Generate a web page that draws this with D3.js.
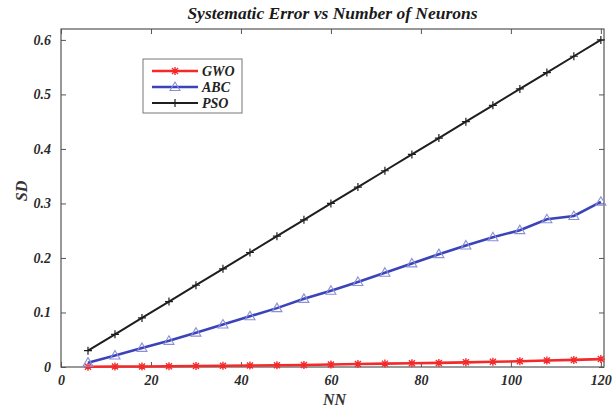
<!DOCTYPE html>
<html lang="en">
<head>
<meta charset="utf-8">
<title>Systematic Error vs Number of Neurons</title>
<script src="https://d3js.org/d3.v7.min.js"></script>
<style>
  body { margin: 0; background: #fff; }
  svg { display: block; }
  text { font-family: "Liberation Serif", "DejaVu Serif", serif; font-weight: bold; font-style: italic; }
</style>
</head>
<body>
<script>
// data
const neurons = [6, 12, 18, 24, 30, 36, 42, 48, 54, 60, 66, 72, 78, 84, 90, 96, 102, 108, 114, 120];
const gwo = [0.0005, 0.0008, 0.001, 0.0014, 0.0018, 0.0022, 0.0027, 0.0033, 0.0038, 0.0045, 0.0055, 0.0062, 0.0068, 0.0075, 0.0085, 0.0095, 0.0105, 0.0118, 0.013, 0.0145];
const abc = [0.008, 0.021, 0.035, 0.048, 0.063, 0.078, 0.093, 0.108, 0.125, 0.14, 0.156, 0.173, 0.19, 0.207, 0.223, 0.238, 0.251, 0.271, 0.277, 0.303];
const pso = [0.03, 0.06, 0.09, 0.12, 0.15, 0.18, 0.21, 0.24, 0.27, 0.30, 0.33, 0.36, 0.39, 0.42, 0.45, 0.48, 0.51, 0.54, 0.57, 0.60];
const xTicks = [0, 20, 40, 60, 80, 100, 120];
const yTicks = [0, 0.1, 0.2, 0.3, 0.4, 0.5, 0.6];
const seriesNames = ["GWO", "ABC", "PSO"];

const width = 612, height = 410;
const plotLeft = 61, plotRight = 604, plotTop = 29, plotBottom = 367;

const x = d3.scaleLinear().domain([0, 120.7]).range([plotLeft, plotRight]);
const y = d3.scaleLinear().domain([0, 0.62]).range([plotBottom, plotTop]);

const svg = d3.select("body").append("svg")
    .attr("width", width)
    .attr("height", height);

// axes with inward ticks on all four sides
const axisColor = "#555";
const fmt = d => d === 0 ? "0" : d3.format(".1f")(d);

function styleAxis(g) {
    g.select(".domain").remove();
    g.selectAll("line").attr("stroke", axisColor);
    g.selectAll("text").attr("fill", "#2a2a2a").style("font-size", "14px");
}

svg.append("g")
    .attr("transform", "translate(0," + plotBottom + ")")
    .call(d3.axisBottom(x).tickValues(xTicks).tickSize(-5).tickPadding(8).tickFormat(d3.format("d")))
    .call(styleAxis);
svg.append("g")
    .attr("transform", "translate(0," + plotTop + ")")
    .call(d3.axisTop(x).tickValues(xTicks).tickSize(-5).tickFormat(""))
    .call(styleAxis);
svg.append("g")
    .attr("transform", "translate(" + plotLeft + ",0)")
    .call(d3.axisLeft(y).tickValues(yTicks).tickSize(-5).tickPadding(10).tickFormat(fmt))
    .call(styleAxis);
svg.append("g")
    .attr("transform", "translate(" + plotRight + ",0)")
    .call(d3.axisRight(y).tickValues(yTicks).tickSize(-5).tickFormat(""))
    .call(styleAxis);

svg.append("rect")
    .attr("x", plotLeft).attr("y", plotTop)
    .attr("width", plotRight - plotLeft).attr("height", plotBottom - plotTop)
    .attr("fill", "none").attr("stroke", axisColor).attr("stroke-width", 1.2);

// lines
const line = d3.line().x((d, i) => x(neurons[i])).y(d => y(d));

const series = [
    {name: "GWO", values: gwo, color: "#f42a2a", width: 2.6, marker: "star"},
    {name: "ABC", values: abc, color: "#3b43b8", width: 2.6, marker: "tri"},
    {name: "PSO", values: pso, color: "#1e1e1e", width: 2, marker: "plus"}
];

function drawMarker(g, type, cx, cy) {
    if (type === "star") {
        const s = 4;
        g.append("path")
            .attr("d", `M${cx - s},${cy}L${cx + s},${cy}M${cx},${cy - s}L${cx},${cy + s}` +
                       `M${cx - 3},${cy - 3}L${cx + 3},${cy + 3}M${cx - 3},${cy + 3}L${cx + 3},${cy - 3}`)
            .attr("stroke", "#f42a2a").attr("stroke-width", 1.4);
    } else if (type === "tri") {
        const s = 5;
        g.append("path")
            .attr("d", `M${cx},${cy - s}L${cx + s},${cy + s * 0.7}L${cx - s},${cy + s * 0.7}Z`)
            .attr("fill", "none").attr("stroke", "#8a8fd8").attr("stroke-width", 1.1);
    } else {
        const s = 4;
        g.append("path")
            .attr("d", `M${cx - s},${cy}L${cx + s},${cy}M${cx},${cy - s}L${cx},${cy + s}`)
            .attr("stroke", "#1e1e1e").attr("stroke-width", 1.2);
    }
}

series.forEach(s => {
    svg.append("path")
        .datum(s.values)
        .attr("d", line)
        .attr("fill", "none")
        .attr("stroke", s.color)
        .attr("stroke-width", s.width);
    const g = svg.append("g");
    s.values.forEach((v, i) => drawMarker(g, s.marker, x(neurons[i]), y(v)));
});

// legend
const legend = svg.append("g");
legend.append("rect")
    .attr("x", 143).attr("y", 59).attr("width", 99).attr("height", 54)
    .attr("fill", "#fff").attr("stroke", "#777").attr("stroke-width", 1);
series.forEach((s, i) => {
    const ly = 71 + i * 16;
    legend.append("line")
        .attr("x1", 152).attr("x2", 198).attr("y1", ly).attr("y2", ly)
        .attr("stroke", s.color).attr("stroke-width", s.width);
    drawMarker(legend, s.marker, 175, ly);
    legend.append("text")
        .attr("x", 202).attr("y", ly + 5)
        .style("font-size", "14px")
        .attr("fill", "#222")
        .text(seriesNames[i]);
});

// title and axis labels
svg.append("text")
    .attr("x", (plotLeft + plotRight) / 2).attr("y", 19)
    .attr("text-anchor", "middle")
    .style("font-size", "17.5px")
    .attr("fill", "#1a1a1a")
    .text("Systematic Error vs Number of Neurons");

svg.append("text")
    .attr("x", (plotLeft + plotRight) / 2 + 2).attr("y", 405)
    .attr("text-anchor", "middle")
    .style("font-size", "16px")
    .attr("fill", "#333")
    .text("NN");

svg.append("text")
    .attr("transform", "translate(27,191) rotate(-90)")
    .attr("text-anchor", "middle")
    .style("font-size", "16px")
    .attr("fill", "#333")
    .text("SD");
</script>
</body>
</html>
